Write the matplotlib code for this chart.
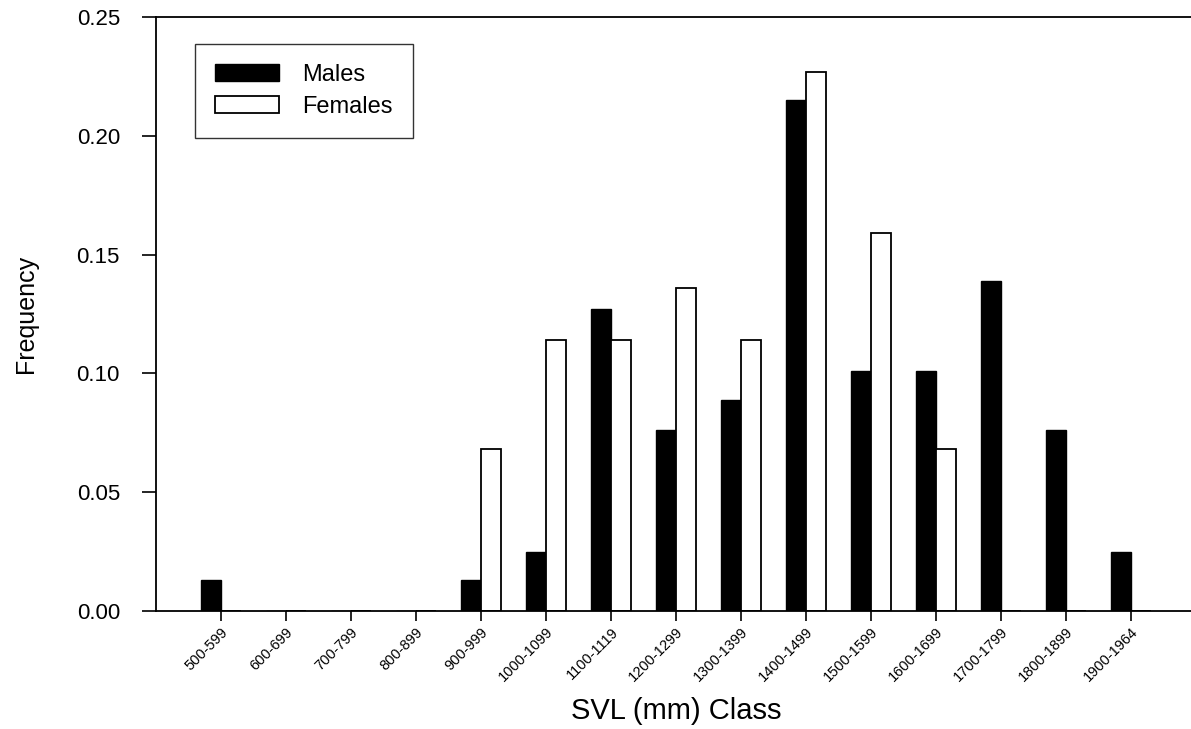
import matplotlib
matplotlib.use('Agg')
import matplotlib.pyplot as plt
import numpy as np

# SVL classes and frequencies
classes = ['500-599', '600-699', '700-799', '800-899', '900-999',
           '1000-1099', '1100-1119', '1200-1299', '1300-1399', '1400-1499',
           '1500-1599', '1600-1699', '1700-1799', '1800-1899', '1900-1964']
males = [0.013, 0, 0, 0, 0.013, 0.025, 0.127, 0.076, 0.089, 0.215,
         0.101, 0.101, 0.139, 0.076, 0.025]
females = [0, 0, 0, 0, 0.068, 0.114, 0.114, 0.136, 0.114, 0.227,
           0.159, 0.068, 0, 0, 0]

plt.rcParams['font.family'] = ['Liberation Sans', 'DejaVu Sans']

fig = plt.figure(figsize=(11.91, 7.29), dpi=100)
# axes runs a bit past the right edge, as in the original
ax = fig.add_axes([156/1191, 1 - 611/729, 1040/1191, 594/729])

x = np.arange(len(classes))
w = 0.31
ax.bar(x - w/2, males, w, color='black', edgecolor='black', linewidth=1, label='Males')
ax.bar(x + w/2, females, w, color='white', edgecolor='black', linewidth=1.3, label='Females')

ax.set_xlim(-1, 15)
ax.set_ylim(0, 0.25)
ax.set_yticks([0, 0.05, 0.10, 0.15, 0.20, 0.25])
ax.set_yticklabels(['0.00', '0.05', '0.10', '0.15', '0.20', '0.25'])
ax.set_xticks(x)
ax.set_xticklabels(classes, rotation=45, ha='right', rotation_mode='anchor', fontsize=10.5)

ax.tick_params(axis='y', direction='out', length=10, width=1.2, labelsize=16, pad=16)
ax.tick_params(axis='x', direction='out', length=7, width=1.2, pad=3)

for s in ['left', 'bottom', 'top']:
    ax.spines[s].set_linewidth(1.3)
ax.spines['right'].set_visible(False)

ax.set_xlabel('SVL (mm) Class', fontsize=21, labelpad=9)
ax.set_ylabel('Frequency', fontsize=18, labelpad=28)

leg = ax.legend(loc='upper left', bbox_to_anchor=(0.0375, 0.955), borderaxespad=0,
                fontsize=17, frameon=True, fancybox=False, edgecolor='black',
                handlelength=2.7, handleheight=0.75, labelspacing=0.42,
                borderpad=0.85, handletextpad=1.0)
leg.get_frame().set_linewidth(1.0)

plt.savefig('out.png', dpi=100)
